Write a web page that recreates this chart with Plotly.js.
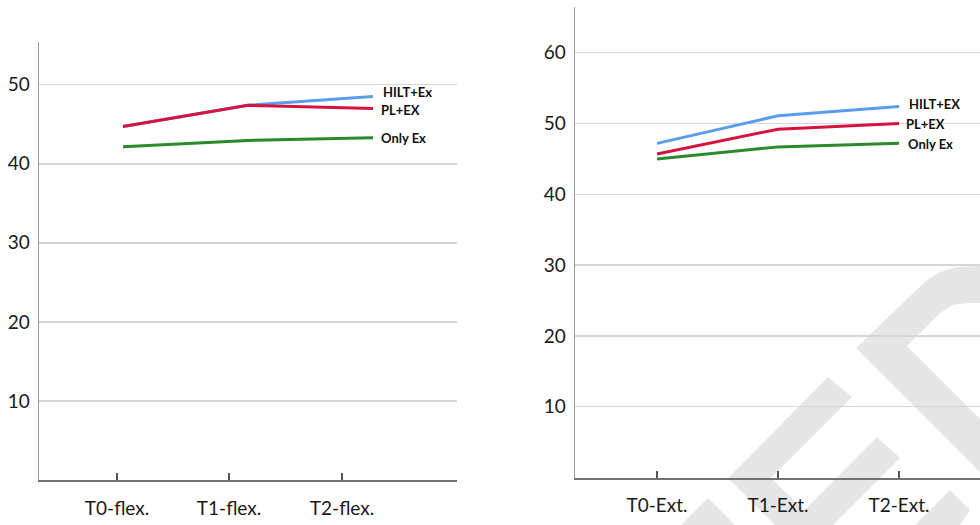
<!DOCTYPE html>
<html>
<head>
<meta charset="utf-8">
<script src="https://cdn.plot.ly/plotly-3.0.1.min.js"></script>
<style>
  html, body { margin: 0; padding: 0; background: #ffffff; }
  #chart { width: 980px; height: 525px; }
</style>
</head>
<body>
<div id="chart"></div>
<script>
// ---- data ----
const flexCategories = ["T0-flex.", "T1-flex.", "T2-flex."];
const extCategories  = ["T0-Ext.", "T1-Ext.", "T2-Ext."];
const seriesNames    = ["HILT+Ex", "PL+EX", "Only Ex"];
const extSeriesNames = ["HILT+EX", "PL+EX", "Only Ex"];

const flexHILT = [44.7, 47.4, 48.5];
const flexPL   = [44.7, 47.4, 47.0];
const flexOnly = [42.15, 42.95, 43.3];

const extHILT = [47.2, 51.1, 52.4];
const extPL   = [45.7, 49.2, 50.0];
const extOnly = [45.0, 46.7, 47.2];

const leftYTicks  = [10, 20, 30, 40, 50];
const rightYTicks = [10, 20, 30, 40, 50, 60];

// ---- styles ----
const FONT = "Lato, 'Liberation Sans', sans-serif";
const BLUE = "#5b9ded", RED = "#d7143f", GREEN = "#2b8a2b";
const idx = [0, 1, 2];

function line(y, color, xa, ya) {
  return { x: idx, y: y, type: "scatter", mode: "lines", xaxis: xa, yaxis: ya,
           line: { color: color, width: 3 }, hoverinfo: "skip", showlegend: false };
}

const traces = [
  line(flexHILT, BLUE, "x", "y"),
  line(flexOnly, GREEN, "x", "y"),
  line(flexPL, RED, "x", "y"),
  line(extHILT, BLUE, "x2", "y2"),
  line(extOnly, GREEN, "x2", "y2"),
  line(extPL, RED, "x2", "y2")
];

function label(text, xa, ya, yv, xshift, yshift) {
  return { text: text, xref: xa, yref: ya, x: 2, y: yv, xanchor: "left", yanchor: "middle",
           xshift: xshift, yshift: yshift, showarrow: false,
           font: { family: FONT, size: 13, color: "#111", weight: 700 } };
}

const annotations = [
  label("<b>" + seriesNames[0] + "</b>", "x", "y", flexHILT[2], 8, 5),
  label("<b>" + seriesNames[1] + "</b>", "x", "y", flexPL[2], 6, -2),
  label("<b>" + seriesNames[2] + "</b>", "x", "y", flexOnly[2], 6, 0),
  label("<b>" + extSeriesNames[0] + "</b>", "x2", "y2", extHILT[2], 8, 3),
  label("<b>" + extSeriesNames[1] + "</b>", "x2", "y2", extPL[2], 5, 0),
  label("<b>" + extSeriesNames[2] + "</b>", "x2", "y2", extOnly[2], 7, -1)
];

// ---- background watermark (decorative, pixel outline -> paper coords) ----
const W = 980, H = 525;
function poly(pts) {
  return "M" + pts.map(p => (p[0] / W).toFixed(5) + "," + (1 - p[1] / H).toFixed(5)).join(" L") + " Z";
}
const wmPolys = [
  [[856,348],[927,280],[940,272],[957,267],[980,266],[980,303],[967,303],[953,305],[940,313],[907,346],[980,419],[980,472]],
  [[828,377],[852,397],[771,478],[819,525],[775,525],[728,478]],
  [[877,437],[900,458],[833,525],[790,525]],
  [[950,490],[970,510],[960,525],[915,525]],
  [[708,498],[735,525],[681,525]]
];
const shapes = wmPolys.map(p => ({
  type: "path", xref: "paper", yref: "paper", path: poly(p), layer: "below",
  fillcolor: "#e6e6e6", line: { width: 0 }
}));

const xBase = {
  type: "linear", showgrid: false, zeroline: false, showline: true,
  linecolor: "#727272", linewidth: 2, ticks: "inside", ticklen: 7, tickwidth: 1.5,
  tickcolor: "#555", tickfont: { family: FONT, size: 19, color: "#1a1a1a" },
  ticklabelstandoff: 10, fixedrange: true
};
const yBase = {
  type: "linear", showgrid: true, gridcolor: "#d6d6d6", gridwidth: 1.5,
  zeroline: false, showline: true, linecolor: "#9a9a9a", linewidth: 1.5,
  ticks: "", tickfont: { family: FONT, size: 19, color: "#1a1a1a" },
  ticklabelstandoff: 4, fixedrange: true
};

const layout = {
  width: W, height: H,
  margin: { l: 0, r: 0, t: 0, b: 0, pad: 0 },
  paper_bgcolor: "#ffffff", plot_bgcolor: "rgba(0,0,0,0)",
  showlegend: false,
  xaxis: Object.assign({}, xBase, {
    domain: [39 / W, 457 / W], range: [-0.672, 2.672], anchor: "y",
    tickvals: [-0.048, 0.848, 1.752], ticktext: flexCategories
  }),
  yaxis: Object.assign({}, yBase, {
    domain: [(H - 480) / H, (H - 42) / H], range: [0, 55.4], anchor: "x",
    tickvals: leftYTicks
  }),
  xaxis2: Object.assign({}, xBase, {
    domain: [575 / W, 1], range: [-0.678, 2.669], anchor: "y2",
    tickvals: idx, ticktext: extCategories
  }),
  yaxis2: Object.assign({}, yBase, {
    domain: [(H - 477.5) / H, (H - 6.7) / H], range: [0, 66.5], anchor: "x2",
    tickvals: rightYTicks
  }),
  annotations: annotations,
  shapes: shapes
};

Plotly.newPlot("chart", traces, layout, { displayModeBar: false, staticPlot: true });
</script>
</body>
</html>
